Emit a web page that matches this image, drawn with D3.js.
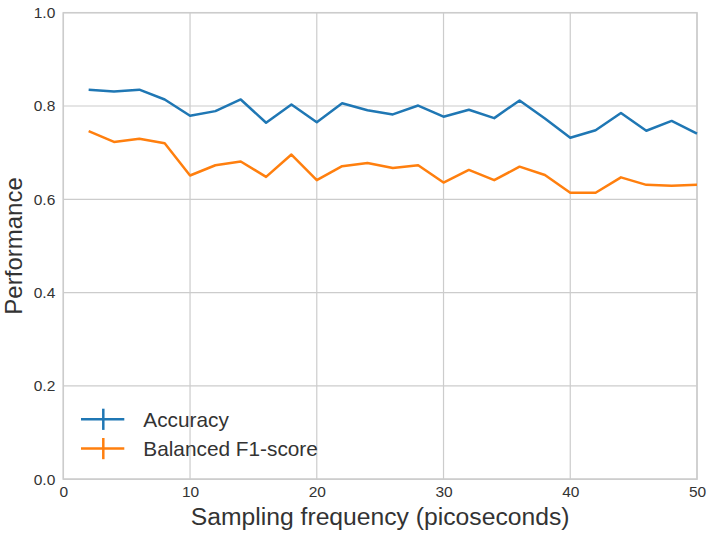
<!DOCTYPE html>
<html><head><meta charset="utf-8">
<script src="https://cdn.jsdelivr.net/npm/d3@7"></script>
<style>body{margin:0;background:#fff}svg{display:block;font-family:"Liberation Sans",Arial,sans-serif}</style>
</head><body><svg id="c" width="709" height="535"></svg>
<script>
const samplingFreq = [2,4,6,8,10,12,14,16,18,20,22,24,26,28,30,32,34,36,38,40,42,44,46,48,50];
const accuracy = [0.835,0.831,0.835,0.814,0.779,0.789,0.814,0.764,0.803,0.765,0.806,0.791,0.782,0.801,0.777,0.792,0.774,0.812,0.773,0.732,0.748,0.785,0.747,0.768,0.741];
const f1score = [0.746,0.723,0.730,0.720,0.651,0.673,0.681,0.648,0.696,0.641,0.671,0.678,0.667,0.673,0.636,0.663,0.641,0.670,0.652,0.614,0.614,0.647,0.631,0.629,0.631];
const seriesNames = ["Accuracy","Balanced F1-score"];
const xTicks = [0,10,20,30,40,50];
const yTicks = [0,0.2,0.4,0.6,0.8,1.0];

const svg = d3.select("#c");
const L=63.3,R=697,T=12.7,B=479.2;
const x = d3.scaleLinear().domain([0,50]).range([L,R]);
const y = d3.scaleLinear().domain([0,1]).range([B,T]);
const grid="#cccccc", txt="#333333";

const g = svg.append("g");
g.selectAll(".vg").data(xTicks).join("line").attr("x1",d=>x(d)).attr("x2",d=>x(d)).attr("y1",T).attr("y2",B).attr("stroke",grid).attr("stroke-width",1.2);
g.selectAll(".hg").data(yTicks).join("line").attr("x1",L).attr("x2",R).attr("y1",d=>y(d)).attr("y2",d=>y(d)).attr("stroke",grid).attr("stroke-width",1.2);
g.append("rect").attr("x",L).attr("y",T).attr("width",R-L).attr("height",B-T).attr("fill","none").attr("stroke",grid).attr("stroke-width",1.5);

const xa = svg.append("g").attr("transform",`translate(0,${B})`).call(d3.axisBottom(x).tickValues(xTicks).tickSize(0).tickPadding(7).tickFormat(d3.format("d")));
xa.select(".domain").remove();
xa.selectAll("text").attr("font-size",15.5).attr("fill",txt).attr("font-family","Liberation Sans, Arial, sans-serif");
const ya = svg.append("g").attr("transform",`translate(${L},0)`).call(d3.axisLeft(y).tickValues(yTicks).tickSize(0).tickPadding(8).tickFormat(d3.format(".1f")));
ya.select(".domain").remove();
ya.selectAll("text").attr("font-size",15.5).attr("fill",txt).attr("font-family","Liberation Sans, Arial, sans-serif");

const colors=["#1f77b4","#ff7f0e"];
const series=[accuracy,f1score];
const line = d3.line().x((d,i)=>x(samplingFreq[i])).y(d=>y(d));
series.forEach((s,k)=>{
  svg.append("path").datum(s).attr("d",line).attr("fill","none").attr("stroke",colors[k]).attr("stroke-width",2.5).attr("stroke-linejoin","round");
});

svg.append("text").attr("x",(L+R)/2).attr("y",525).attr("text-anchor","middle").attr("font-size",24.7).attr("fill",txt).text("Sampling frequency (picoseconds)");
svg.append("text").attr("transform",`translate(21.5,${(T+B)/2}) rotate(-90)`).attr("text-anchor","middle").attr("font-size",24).attr("fill",txt).text("Performance");

const lg = svg.append("g");
seriesNames.forEach((n,k)=>{
  const yy = 419.3 + k*29.3;
  lg.append("line").attr("x1",81).attr("x2",124.3).attr("y1",yy).attr("y2",yy).attr("stroke",colors[k]).attr("stroke-width",2.5);
  lg.append("line").attr("x1",103.3).attr("x2",103.3).attr("y1",yy-10.6).attr("y2",yy+10.6).attr("stroke",colors[k]).attr("stroke-width",2.5);
  lg.append("text").attr("x",143.3).attr("y",yy+7.3).attr("font-size",20.8).attr("fill",txt).text(n);
});
</script></body></html>
